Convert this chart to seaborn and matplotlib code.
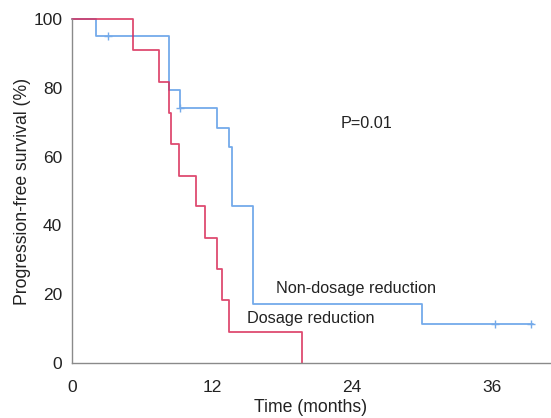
import matplotlib
matplotlib.use("Agg")
import matplotlib.pyplot as plt
import seaborn as sns
import pandas as pd
import numpy as np

# Data
red_times = [0, 5.2, 7.5, 8.3, 8.5, 9.2, 10.6, 11.4, 12.45, 12.86, 13.45, 19.7]
red_surv = [100, 90.9, 81.8, 72.7, 63.6, 54.5, 45.5, 36.4, 27.3, 18.2, 9.1, 0]

blue_times = [0, 2.1, 8.3, 9.3, 12.4, 13.48, 13.68, 13.73, 15.54, 30.0, 39.5]
blue_surv = [100, 95.2, 79.4, 74.1, 68.4, 62.7, 57.0, 45.6, 17.1, 11.4, 11.4]

blue_censor_t = [3.1, 9.3, 36.3, 39.4]
blue_censor_s = [95.2, 74.1, 11.4, 11.4]

x_ticks = [0, 12, 24, 36]
y_ticks = [0, 20, 40, 60, 80, 100]

sns.set_style("white")
plt.rcParams['font.family'] = ['Liberation Sans', 'DejaVu Sans']

fig = plt.figure(figsize=(5.51, 4.18), dpi=100)
ax = fig.add_axes([0.1307, 0.1316, 0.8675, 0.8229])

blue_c = "#74aaea"
red_c = "#d92c58"

df_b = pd.DataFrame({"t": blue_times, "s": blue_surv})
df_r = pd.DataFrame({"t": red_times, "s": red_surv})

sns.lineplot(data=df_b, x="t", y="s", drawstyle="steps-post", color=blue_c,
             lw=1.3, estimator=None, ax=ax, clip_on=False)
sns.lineplot(data=df_r, x="t", y="s", drawstyle="steps-post", color=red_c,
             lw=1.3, estimator=None, ax=ax, clip_on=False, alpha=0.85)
sns.scatterplot(x=blue_censor_t, y=blue_censor_s, marker="+", color=blue_c,
                s=40, linewidth=1.0, ax=ax, clip_on=False)

ax.set_xlim(0, 41)
ax.set_ylim(0, 100)
ax.set_xticks(x_ticks)
ax.set_yticks(y_ticks)
ax.tick_params(length=0, labelsize=12.5, colors="#222222")
ax.tick_params(axis="x", pad=12)
ax.tick_params(axis="y", pad=7)
ax.set_xlabel("Time (months)", fontsize=12.7, color="#222222", labelpad=3)
ax.set_ylabel("Progression-free survival (%)", fontsize=12.7, color="#222222", labelpad=2)

for sp in ["top", "right"]:
    ax.spines[sp].set_visible(False)
for sp in ["left", "bottom"]:
    ax.spines[sp].set_color("#8a8a8a")
    ax.spines[sp].set_linewidth(1.0)

ax.text(23.0, 69.5, "P=0.01", fontsize=11.7, color="#222222", va="center")
ax.text(17.5, 21.8, "Non-dosage reduction", fontsize=11.7, color="#222222", va="center")
ax.text(15.0, 12.8, "Dosage reduction", fontsize=11.7, color="#222222", va="center")

fig.savefig("out.png", dpi=100)
